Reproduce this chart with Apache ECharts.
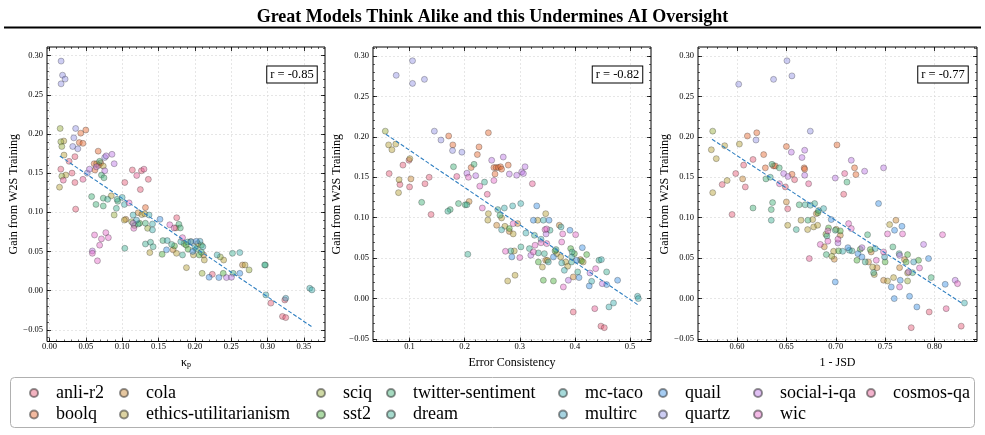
<!DOCTYPE html>
<html>
<head>
<meta charset="utf-8">
<title>Great Models Think Alike</title>
<script src="https://cdn.jsdelivr.net/npm/echarts@6/dist/echarts.min.js"></script>
<style>
    html, body { margin: 0; padding: 0; background: #fff; }
    #chart { width: 985px; height: 435px; }
</style>
</head>
<body>
<div id="chart"></div>
<script>
    // categories (legend order)
    var categories = ['anli-r2', 'boolq', 'cola', 'ethics-utilitarianism', 'sciq', 'sst2',
        'twitter-sentiment', 'dream', 'mc-taco', 'multirc', 'quail', 'quartz', 'social-i-qa', 'wic', 'cosmos-qa'];

    // tick labels
    var gainTicks = [-0.05, 0, 0.05, 0.10, 0.15, 0.20, 0.25, 0.30];
    var kappaTicks = [0, 0.05, 0.10, 0.15, 0.20, 0.25, 0.30, 0.35];
    var ecTicks = [0.1, 0.2, 0.3, 0.4, 0.5];
    var jsdTicks = [0.60, 0.65, 0.70, 0.75, 0.80];

    // axis ranges
    var kappaRange = [-0.0034, 0.379];
    var ecRange = [0.0337, 0.538];
    var jsdRange = [0.5605, 0.843];
    var gainRange1 = [-0.065, 0.311];
    var gainRange23 = [-0.053, 0.311];

    // correlation values
    var rValues = ['-0.85', '-0.82', '-0.77'];

    // fitted trend lines (end points)
    var kappaFit = [[0.0142, 0.1718], [0.3618, -0.0468]];
    var ecFit = [[0.0571, 0.2032], [0.5137, -0.0074]];
    var jsdFit = [[0.5747, 0.197], [0.8283, -0.0062]];

    // points: [x, gain, category index]
    var kappaPoints = [
        [0.016,0.293,11],[0.018,0.275,11],[0.0215,0.270,11],[0.016,0.264,11],
        [0.0147,0.207,4],[0.036,0.207,11],[0.050,0.205,1],[0.043,0.201,1],[0.0156,0.190,4],[0.0197,0.191,3],
        [0.041,0.189,1],[0.046,0.188,1],[0.017,0.184,4],[0.032,0.184,11],[0.0335,0.195,11],[0.039,0.181,11],
        [0.020,0.173,3],[0.035,0.171,0],[0.027,0.165,0],[0.0156,0.155,0],[0.031,0.150,0],[0.017,0.146,4],
        [0.0225,0.1475,3],[0.019,0.141,14],[0.0138,0.132,3],[0.035,0.138,0],[0.036,0.104,0],[0.046,0.142,14],
        [0.052,0.150,11],[0.055,0.155,12],
        [0.067,0.178,1],[0.0615,0.162,1],[0.065,0.162,2],[0.069,0.165,6],[0.0705,0.163,1],[0.068,0.160,1],
        [0.0625,0.154,1],[0.074,0.159,3],[0.076,0.170,11],[0.078,0.172,12],[0.086,0.174,12],[0.089,0.162,12],
        [0.076,0.153,12],[0.0715,0.1475,6],[0.075,0.144,6],[0.0645,0.158,12],
        [0.058,0.120,6],[0.064,0.110,6],[0.074,0.118,6],[0.074,0.108,6],[0.080,0.1165,7],[0.085,0.121,3],
        [0.093,0.1165,7],[0.094,0.114,6],[0.100,0.119,8],[0.103,0.110,8],[0.1095,0.112,13],[0.092,0.105,7],
        [0.089,0.0965,4],
        [0.1036,0.138,0],[0.114,0.154,0],[0.120,0.147,14],[0.1265,0.153,0],[0.130,0.155,14],[0.136,0.142,0],
        [0.125,0.129,0],
        [0.103,0.090,3],[0.105,0.091,2],[0.115,0.0965,8],[0.122,0.0995,2],[0.127,0.097,3],[0.131,0.098,3],
        [0.132,0.106,1],[0.137,0.0965,8],[0.113,0.088,4],[0.115,0.086,12],[0.116,0.0795,13],[0.117,0.083,5],
        [0.1197,0.090,9],[0.122,0.085,7],[0.124,0.086,5],[0.132,0.086,6],[0.1417,0.085,8],[0.1417,0.0775,8],
        [0.135,0.0795,4],[0.152,0.091,10],
        [0.1036,0.054,7],[0.132,0.0595,7],[0.139,0.0617,7],[0.1426,0.056,7],[0.138,0.0485,3],
        [0.062,0.071,13],[0.059,0.0506,12],[0.059,0.0476,13],[0.066,0.038,13],[0.069,0.058,13],[0.0715,0.066,13],
        [0.0775,0.074,13],[0.081,0.0676,13],
        [0.156,0.0638,6],[0.162,0.0638,8],[0.155,0.0463,5],[0.161,0.052,10],[0.1655,0.084,13],[0.1715,0.080,13],
        [0.174,0.080,2],[0.175,0.093,0],[0.178,0.0846,6],[0.18,0.080,6],[0.168,0.059,7],[0.170,0.052,2],
        [0.172,0.057,5],[0.1747,0.0476,3],[0.1806,0.0625,8],[0.183,0.0676,13],[0.183,0.0455,7],[0.1884,0.0293,3],
        [0.185,0.060,5],[0.188,0.058,5],[0.190,0.062,8],[0.195,0.0625,10],[0.200,0.055,8],[0.202,0.063,10],
        [0.207,0.063,9],[0.197,0.050,10],[0.202,0.053,6],[0.206,0.0455,5],[0.209,0.058,5],[0.211,0.056,8],
        [0.198,0.0455,3],[0.212,0.0455,2],[0.209,0.049,6],[0.204,0.060,3],[0.1907,0.0527,5],[0.194,0.0625,4],
        [0.213,0.039,3],[0.210,0.022,4],[0.224,0.0208,0],[0.2196,0.017,10],[0.233,0.0166,10],[0.239,0.022,5],
        [0.2435,0.0166,12],[0.2306,0.0455,8],[0.235,0.043,4],[0.2396,0.039,3],[0.2517,0.0476,7],[0.2618,0.0485,8],
        [0.2526,0.022,6],[0.2503,0.017,12],[0.2618,0.022,10],[0.2655,0.0327,2],[0.269,0.0327,3],[0.2746,0.0264,4],
        [0.296,0.0327,7],[0.297,0.0327,6],[0.2976,-0.0055,8],[0.3045,-0.016,0],[0.3205,-0.033,0],[0.325,-0.0345,0],
        [0.325,-0.0098,9],[0.3237,-0.012,0],[0.358,0.003,8],[0.361,0.0009,8]
    ];

    var ecPoints = [
        [0.0758,0.276,11],[0.1054,0.294,11],[0.1054,0.266,11],[0.127,0.271,11],
        [0.056,0.207,4],[0.062,0.190,3],[0.068,0.184,3],[0.075,0.191,3],[0.063,0.1545,0],[0.081,0.147,3],
        [0.0825,0.141,0],[0.080,0.131,3],[0.088,0.165,0],[0.099,0.171,0],[0.1005,0.173,3],[0.1,0.138,0],
        [0.1024,0.148,2],[0.128,0.142,0],[0.1356,0.150,0],[0.122,0.119,6],[0.139,0.104,0],[0.145,0.207,11],
        [0.157,0.196,11],[0.171,0.201,1],[0.178,0.183,11],[0.1785,0.190,1],[0.1797,0.163,6],[0.1857,0.151,14],
        [0.195,0.181,11],[0.1695,0.108,7],[0.1737,0.110,6],[0.1888,0.1175,6],[0.201,0.116,6],[0.204,0.116,7],
        [0.208,0.120,2],[0.2057,0.0548,7],[0.204,0.155,12],[0.2068,0.150,13],[0.2117,0.162,1],[0.217,0.166,6],
        [0.220,0.152,12],[0.223,0.178,1],[0.226,0.1875,1],[0.2274,0.139,13],[0.232,0.112,13],[0.236,0.144,7],
        [0.241,0.129,14],[0.243,0.105,3],[0.242,0.097,3],[0.243,0.205,1],[0.249,0.171,12],[0.253,0.162,1],
        [0.257,0.162,1],[0.261,0.162,1],[0.265,0.163,1],[0.267,0.160,1],[0.255,0.154,1],[0.253,0.146,13],
        [0.258,0.0907,2],[0.26,0.110,7],[0.264,0.103,6],[0.267,0.0997,3],[0.267,0.085,8],[0.270,0.175,12],
        [0.272,0.112,8],[0.273,0.0894,3],[0.279,0.165,1],[0.281,0.154,12],[0.274,0.0585,13],[0.278,0.0218,3],
        [0.281,0.0866,5],[0.281,0.083,2],[0.2836,0.059,7],[0.287,0.1146,8],[0.288,0.0927,13],[0.288,0.080,3],
        [0.290,0.059,3],[0.2855,0.0515,10],[0.2914,0.0289,3],[0.2944,0.1525,12],[0.296,0.0927,2],[0.300,0.0507,13],
        [0.302,0.0639,7],[0.3017,0.1175,8],[0.3035,0.1566,12],[0.3065,0.1546,12],[0.3095,0.163,12],[0.311,0.081,8],
        [0.3174,0.0618,7],[0.320,0.0536,12],[0.3228,0.142,14],[0.3246,0.0969,10],[0.3246,0.0577,13],[0.3265,0.0783,7],
        [0.3277,0.066,13],[0.3307,0.1146,10],[0.3325,0.0969,3],[0.3337,0.0453,5],[0.3337,0.0565,7],[0.3385,0.0734,8],
        [0.3385,0.069,13],[0.341,0.039,3],[0.3427,0.0227,5],[0.3427,0.0969,8],[0.3446,0.0556,7],[0.3458,0.0853,13],
        [0.347,0.105,3],[0.3488,0.0862,13],[0.3476,0.080,12],[0.3488,0.068,13],[0.347,0.0474,2],[0.350,0.0474,3],
        [0.3518,0.0453,8],[0.353,0.0969,10],[0.3548,0.0845,7],[0.361,0.0515,10],[0.361,0.0218,5],[0.3639,0.059,5],
        [0.3657,0.0606,7],[0.367,0.0556,3],[0.3717,0.0907,2],[0.3748,0.0886,8],[0.376,0.070,13],[0.3742,0.0515,3],
        [0.376,0.0441,8],[0.3778,0.080,13],[0.3808,0.035,8],[0.379,0.0144,13],[0.3832,0.0453,3],[0.3868,0.040,3],
        [0.388,0.0227,12],[0.391,0.0845,10],[0.3923,0.0618,5],[0.394,0.0515,8],[0.394,0.0453,7],[0.395,0.0577,7],
        [0.397,0.0268,2],[0.397,-0.0165,0],[0.399,0.0556,5],[0.4013,0.079,13],[0.403,0.0474,10],[0.405,0.033,7],
        [0.4074,0.026,10],[0.410,0.0482,2],[0.412,0.0465,5],[0.4134,0.063,10],[0.415,0.0453,3],[0.4213,0.0544,5],
        [0.4273,0.0317,12],[0.4303,0.0214,8],[0.426,0.0157,10],[0.436,-0.0124,14],[0.4376,0.037,13],[0.4436,0.0474,7],
        [0.448,0.0482,8],[0.4472,-0.034,0],[0.4533,-0.0359,0],[0.4496,0.0185,12],[0.4575,0.0173,10],[0.4575,0.033,7],
        [0.4617,-0.0103,8],[0.470,-0.0054,8],[0.4774,0.0227,10],[0.5136,0.0029,8],[0.515,0.0,8]
    ];

    var jsdPoints = [
        [0.6017,0.265,11],[0.637,0.271,11],[0.6506,0.294,11],[0.6556,0.2753,11],
        [0.5754,0.207,4],[0.574,0.184,3],[0.579,0.173,3],[0.5875,0.189,3],[0.6024,0.191,3],[0.5754,0.131,3],
        [0.585,0.141,0],[0.590,0.146,3],[0.5987,0.1546,0],[0.6057,0.148,2],[0.595,0.104,0],[0.6067,0.165,0],
        [0.6084,0.138,0],[0.6105,0.201,1],[0.6162,0.172,0],[0.620,0.205,1],[0.6192,0.196,11],[0.6162,0.112,6],
        [0.627,0.178,1],[0.6287,0.1616,1],[0.6293,0.148,6],[0.6337,0.150,7],[0.6354,0.166,6],[0.637,0.164,1],
        [0.6388,0.164,1],[0.6428,0.1616,6],[0.643,0.142,13],[0.6347,0.110,6],[0.636,0.1187,6],[0.6347,0.0969,7],
        [0.6472,0.1546,12],[0.649,0.138,0],[0.650,0.188,1],[0.650,0.1195,2],[0.6513,0.111,0],[0.6513,0.0907,3],
        [0.6516,0.151,12],[0.655,0.181,12],[0.6557,0.1537,1],[0.6583,0.147,0],[0.660,0.0853,7],[0.663,0.116,6],
        [0.6648,0.0969,3],[0.6658,0.1744,12],[0.6685,0.1834,12],[0.668,0.1616,1],[0.6685,0.1525,12],[0.6685,0.160,1],
        [0.669,0.116,7],[0.6715,0.0853,3],[0.6718,0.0969,6],[0.6725,0.142,14],[0.6732,0.0495,14],[0.6742,0.207,11],
        [0.6742,0.1154,8],[0.6766,0.0977,3],[0.6776,0.0886,3],[0.6786,0.1175,7],[0.6803,0.105,2],[0.6819,0.106,5],
        [0.6826,0.109,7],[0.6816,0.0907,3],[0.6843,0.067,13],[0.6877,0.1113,8],[0.6884,0.064,2],[0.690,0.0796,4],
        [0.6904,0.0544,6],[0.691,0.0775,7],[0.692,0.0837,13],[0.692,0.071,13],[0.6927,0.0874,5],[0.6954,0.0977,10],
        [0.696,0.0523,4],[0.6978,0.0585,3],[0.6985,0.0486,2],[0.6995,0.0845,7],[0.6995,0.0206,10],[0.6995,0.149,12],
        [0.7012,0.190,1],[0.7005,0.0857,3],[0.7022,0.0734,13],[0.7029,0.059,5],[0.7022,0.0688,12],[0.7046,0.0837,5],
        [0.7046,0.0783,2],[0.707,0.0585,8],[0.708,0.129,0],[0.709,0.1546,14],[0.7113,0.144,6],[0.7123,0.063,10],
        [0.713,0.0927,13],[0.7137,0.0598,8],[0.7157,0.171,12],[0.7157,0.0866,13],[0.7164,0.059,7],[0.719,0.1616,1],
        [0.7204,0.1533,1],[0.7214,0.0474,5],[0.7224,0.0556,10],[0.7248,0.061,5],[0.7265,0.0515,10],[0.7265,0.063,12],
        [0.7292,0.1575,12],[0.7298,0.0453,7],[0.7322,0.079,6],[0.7332,0.0453,2],[0.7349,0.0606,5],[0.7359,0.0577,2],
        [0.7373,0.039,3],[0.7383,0.0321,7],[0.739,0.0297,3],[0.74,0.0618,8],[0.741,0.0474,13],[0.7417,0.0383,2],
        [0.7433,0.1175,10],[0.7484,0.1616,12],[0.7484,0.0577,13],[0.7494,0.0515,9],[0.75,0.0453,5],[0.7484,0.0227,2],
        [0.7524,0.0218,3],[0.7524,0.080,13],[0.7545,0.0915,3],[0.7562,0.0144,10],[0.7578,0.0639,6],[0.7585,0.026,3],
        [0.7595,0.0845,10],[0.7609,0.0969,2],[0.7592,0.0,10],[0.7642,0.0556,7],[0.7646,0.0535,12],[0.7646,0.0383,2],
        [0.7646,0.0144,13],[0.7653,0.0227,10],[0.767,0.0894,10],[0.7676,0.080,13],[0.7696,0.0482,2],[0.7713,0.0453,5],
        [0.7727,0.0544,5],[0.7727,0.0218,4],[0.7727,0.0317,3],[0.7737,0.033,12],[0.7747,0.0029,10],[0.7764,-0.0359,0],
        [0.7777,0.0321,6],[0.7788,0.0453,9],[0.7821,-0.0103,10],[0.7838,0.0474,5],[0.7848,0.0379,13],[0.7889,0.067,12],
        [0.7939,0.0495,10],[0.7946,-0.0165,0],[0.7966,0.026,6],[0.8081,0.079,13],[0.8108,0.0177,10],[0.8118,-0.0124,14],
        [0.8209,0.0227,12],[0.8233,0.0185,13],[0.827,-0.034,0],[0.8303,-0.0054,8]
    ];

    // style
    var palette = ['#e6617b', '#e66e39', '#cb8939', '#b7a33c', '#9ab043', '#53b146', '#46b17b', '#46b196',
        '#46b1b1', '#46a3be', '#4696e6', '#9696e6', '#be7be6', '#e66ecb', '#e66196'];
    var serif = "'Liberation Serif', 'DejaVu Serif', serif";

    var panels = [
        {grid: {left: 47, top: 47, width: 278, height: 294.5}, xr: kappaRange, yr: gainRange1, xt: kappaTicks, xm: 0.01, dig: 2,
            xname: '{k|κ}{p|p}', pts: kappaPoints, fit: kappaFit, r: rValues[0], box: 292, ygap: 27},
        {grid: {left: 373, top: 47, width: 278, height: 294.5}, xr: ecRange, yr: gainRange23, xt: ecTicks, xm: 0.02, dig: 1,
            xname: 'Error Consistency', pts: ecPoints, fit: ecFit, r: rValues[1], box: 617.5, ygap: 30},
        {grid: {left: 698, top: 47, width: 279, height: 294.5}, xr: jsdRange, yr: gainRange23, xt: jsdTicks, xm: 0.01, dig: 2,
            xname: '1 - JSD', pts: jsdPoints, fit: jsdFit, r: rValues[2], box: 943, ygap: 27}
    ];

    function hexA(hex, a) {
        var n = parseInt(hex.slice(1), 16);
        return 'rgba(' + (n >> 16) + ',' + ((n >> 8) & 255) + ',' + (n & 255) + ',' + a + ')';
    }
    function fmt(d) {
        return function (v) { return v.toFixed(d).replace('-', '\u2212'); };
    }
    // minor tick positions inside a range
    function minorTicks(range, step) {
        var out = [];
        var start = Math.ceil(range[0] / step - 1e-9);
        for (var k = start; k * step <= range[1] + 1e-9; k++) out.push(+(k * step).toFixed(6));
        return out;
    }

    var grids = [], xAxes = [], yAxes = [], series = [], graphics = [];
    var tick = {show: true, inside: true, length: 4, lineStyle: {color: '#000', width: 0.8}};
    var minorTick = {show: true, inside: true, length: 2, lineStyle: {color: '#000', width: 0.6}};
    var split = {show: true, lineStyle: {color: '#d6d6d6', width: 0.6, type: [2, 2]}};
    var noLine = {show: false, onZero: false};

    function extraAxis(pi, pos, range, ticks, style) {
        return {
            type: 'value', gridIndex: pi, position: pos, min: range[0], max: range[1],
            axisLine: noLine, axisTick: Object.assign({customValues: ticks}, style),
            axisLabel: {show: false}, splitLine: {show: false}
        };
    }

    panels.forEach(function (p, pi) {
        grids.push(Object.assign({show: true, borderColor: '#000', borderWidth: 1, containLabel: false,
            outerBoundsMode: 'none'}, p.grid));
        var xMinor = minorTicks(p.xr, p.xm), yMinor = minorTicks(p.yr, 0.01);
        xAxes.push({
            type: 'value', gridIndex: pi, position: 'bottom', min: p.xr[0], max: p.xr[1],
            axisLine: noLine, axisTick: Object.assign({customValues: p.xt}, tick),
            axisLabel: {customValues: p.xt, formatter: fmt(p.dig), fontFamily: serif, fontSize: 8.5, color: '#000', margin: 1},
            splitLine: split,
            name: p.xname, nameLocation: 'middle', nameGap: 5,
            nameTextStyle: {fontFamily: serif, fontSize: 12, color: '#000', verticalAlign: 'top',
                rich: {k: {fontFamily: serif, fontSize: 12, color: '#000'},
                    p: {fontFamily: serif, fontSize: 8, color: '#000', verticalAlign: 'bottom', padding: [6, 0, 0, 0]}}}
        });
        xAxes.push(extraAxis(pi, 'top', p.xr, p.xt, tick));
        xAxes.push(extraAxis(pi, 'bottom', p.xr, xMinor, minorTick));
        xAxes.push(extraAxis(pi, 'top', p.xr, xMinor, minorTick));

        yAxes.push({
            type: 'value', gridIndex: pi, position: 'left', min: p.yr[0], max: p.yr[1],
            axisLine: noLine, axisTick: Object.assign({customValues: gainTicks}, tick),
            axisLabel: {customValues: gainTicks, formatter: fmt(2), fontFamily: serif, fontSize: 8.5, color: '#000', margin: 4},
            splitLine: split,
            name: 'Gain from W2S Training', nameLocation: 'middle', nameGap: p.ygap,
            nameTextStyle: {fontFamily: serif, fontSize: 12, color: '#000'}
        });
        yAxes.push(extraAxis(pi, 'right', p.yr, gainTicks, tick));
        yAxes.push(extraAxis(pi, 'left', p.yr, yMinor, minorTick));
        yAxes.push(extraAxis(pi, 'right', p.yr, yMinor, minorTick));

        categories.forEach(function (name, ci) {
            series.push({
                type: 'scatter', name: name, xAxisIndex: 4 * pi, yAxisIndex: 4 * pi,
                data: p.pts.filter(function (d) { return d[2] === ci; }).map(function (d) { return [d[0], d[1]]; }),
                symbol: 'circle', symbolSize: 6,
                itemStyle: {color: hexA(palette[ci], 0.6), borderColor: 'rgba(30,30,30,0.6)', borderWidth: 0.6},
                emphasis: {disabled: true}
            });
        });
        series.push({
            type: 'line', xAxisIndex: 4 * pi, yAxisIndex: 4 * pi, data: p.fit, symbol: 'none', silent: true, z: 5,
            lineStyle: {color: '#2f7fc1', width: 1.1, type: [4, 2]}
        });

        graphics.push({
            type: 'text', x: p.box, y: 74.5, z: 100,
            style: {text: 'r = ' + p.r, fontFamily: serif, fontSize: 12.5, fill: '#000',
                align: 'center', verticalAlign: 'middle', textAlign: 'center', textVerticalAlign: 'middle',
                backgroundColor: '#fff', borderColor: '#000', borderWidth: 1, padding: [2, 3, 1, 3]}
        });
    });

    // title underline and legend frame
    graphics.push({type: 'line', shape: {x1: 4, y1: 27.5, x2: 981, y2: 27.5}, style: {stroke: '#000', lineWidth: 2}});
    graphics.push({type: 'rect', shape: {x: 10.5, y: 377.5, width: 964, height: 50, r: 4},
        style: {fill: '#fff', stroke: '#b0b0b0', lineWidth: 1}, z: -10});

    // legend columns (two rows, column-major)
    var legendCols = [[0, 1], [2, 3], [4, 5], [6, 7], [8, 9], [10, 11], [12, 13], [14]];
    var legendX = [33, 123, 320, 390, 562, 662, 757, 870];
    var legends = legendCols.map(function (col, i) {
        return {
            orient: 'vertical', left: legendX[i] - 4, top: 383, padding: 0, itemGap: 1.5,
            itemWidth: 34, itemHeight: 8, icon: 'circle', selectedMode: false,
            data: col.map(function (c) { return categories[c]; }),
            textStyle: {fontFamily: serif, fontSize: 18, lineHeight: 20, color: '#000'}
        };
    });

    var chart = echarts.init(document.getElementById('chart'));
    chart.setOption({
        animation: false,
        backgroundColor: '#fff',
        title: {
            text: 'Great Models Think Alike and this Undermines AI Oversight', left: 'center', top: 3,
            textStyle: {fontFamily: serif, fontWeight: 'bold', fontSize: 18, color: '#000'}
        },
        legend: legends,
        grid: grids,
        xAxis: xAxes,
        yAxis: yAxes,
        series: series,
        graphic: graphics
    });
</script>
</body>
</html>
